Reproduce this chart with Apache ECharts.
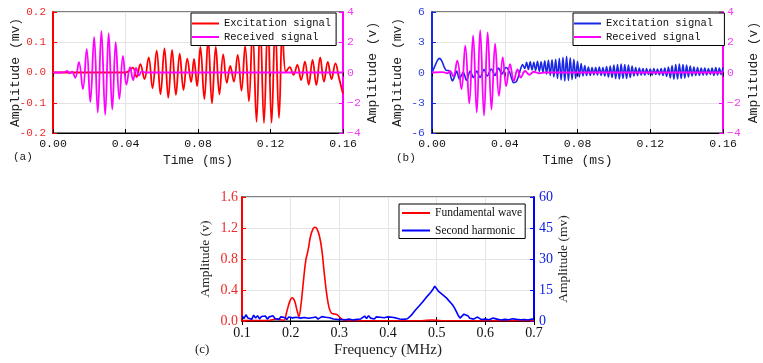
<!DOCTYPE html>
<html><head><meta charset="utf-8">
<script src="https://cdn.jsdelivr.net/npm/echarts/dist/echarts.min.js"></script>
<style>html,body{margin:0;padding:0;background:#fff}#c{width:763px;height:363px}</style>
</head><body><div id="c"></div>
<script>
// ---------- axis ranges [min, max, interval] ----------
const timeRange = [0, 0.16, 0.04];
const mvRangeA = [-0.2, 0.2, 0.1];
const mvRangeB = [-6, 6, 3];
const voltRange = [-4, 4, 2];
const freqRange = [0.1, 0.7, 0.1];
const fundRange = [0, 1.6, 0.4];
const harmRange = [0, 60, 15];

// ---------- (a) signals: [time ms, value] ----------
const excitationA = [[0,0],[0.040,0],[0.0421,0.006],[0.0441,0.016],[0.0461,-0.015],[0.0482,0.028],[0.0505,-0.022],[0.0528,0.05],[0.0549,-0.052],[0.0572,0.072],[0.0593,-0.072],[0.0615,0.08],[0.0636,-0.084],[0.0657,0.075],[0.0678,-0.074],[0.0699,0.062],[0.072,-0.058],[0.0741,0.046],[0.0762,-0.032],[0.0778,0.045],[0.0795,-0.045],[0.0813,0.085],[0.0835,-0.088],[0.0856,0.11],[0.0877,-0.102],[0.0898,0.085],[0.0918,-0.072],[0.0939,0.06],[0.0959,-0.034],[0.0978,0.022],[0.0998,-0.03],[0.1019,0.058],[0.104,-0.06],[0.106,0.088],[0.1081,-0.095],[0.1101,0.14],[0.1123,-0.163],[0.1143,0.165],[0.1164,-0.167],[0.1185,0.165],[0.1206,-0.166],[0.1226,0.16],[0.1247,-0.15],[0.1266,0.13],[0.1285,0.002],[0.1306,0.018],[0.1327,-0.008],[0.1348,0.025],[0.1369,-0.025],[0.139,0.036],[0.1411,-0.04],[0.1432,0.042],[0.1453,-0.042],[0.1474,0.05],[0.1495,-0.03],[0.1516,0.035],[0.1537,-0.022],[0.1558,0.03],[0.1578,-0.018],[0.16,-0.07]];
const receivedA = [[0,0],[0.004,0],[0.0065,0.03],[0.0078,0.1],[0.0092,-0.05],[0.0105,0.06],[0.0123,-0.35],[0.0143,0.68],[0.0165,-1.1],[0.0186,1.55],[0.0206,-1.95],[0.0227,2.35],[0.0247,-2.65],[0.0267,2.75],[0.0288,-2.8],[0.0307,2.6],[0.0327,-2.45],[0.0346,2.0],[0.0366,-1.75],[0.0386,1.1],[0.0405,-0.8],[0.0425,0.35],[0.0442,-0.5],[0.0458,0.3],[0.0475,-0.2],[0.049,0.08],[0.051,0],[0.16,0]];

// ---------- (b) signals ----------
const excitationBStart = [[0,0],[0.0015,0.6],[0.003,1.2],[0.0042,1.4],[0.0055,1.1],[0.0068,0.5],[0.008,0.2],[0.0092,0.2],[0.0105,-0.5],[0.0112,-0.85],[0.0122,-0.5],[0.0136,0.15],[0.015,-0.65],[0.0172,0.0],[0.019,-0.8],[0.021,0.15],[0.0228,-0.5],[0.0246,0.15],[0.0264,-0.5],[0.0286,0.3],[0.0304,-0.35],[0.0326,0.35],[0.0346,-0.3],[0.0366,0.45],[0.0384,-0.15],[0.0407,0.5],[0.0425,0.1],[0.0438,-0.6],[0.0448,-1.0],[0.0462,-0.95],[0.0475,-0.4],[0.0488,0.4],[0.0498,0.8]];
const bandStart = 0.051, bandCycle = 0.002;   // fast oscillation: trough then peak each cycle
const bandLow = [0.4,0.3,0.25,0.2,0.1,0.0,-0.15,-0.3,-0.45,-0.6,-0.75,-0.85,-0.8,-0.7,-0.6,-0.45,-0.35,-0.3,-0.3,-0.25,-0.25,-0.3,-0.35,-0.45,-0.5,-0.6,-0.65,-0.6,-0.6,-0.5,-0.35,-0.3,-0.25,-0.25,-0.2,-0.25,-0.2,-0.25,-0.3,-0.4,-0.55,-0.65,-0.65,-0.6,-0.55,-0.45,-0.35,-0.3,-0.3,-0.25,-0.25,-0.2,-0.3,-0.25,-0.2];
const bandHigh = [1.0,1.05,1.0,1.1,1.05,1.15,1.2,1.25,1.3,1.4,1.5,1.6,1.45,1.3,1.1,0.9,0.7,0.55,0.5,0.5,0.55,0.5,0.6,0.65,0.75,0.8,0.85,0.8,0.75,0.65,0.5,0.45,0.4,0.4,0.35,0.4,0.35,0.4,0.45,0.55,0.7,0.8,0.85,0.8,0.75,0.65,0.55,0.5,0.45,0.45,0.4,0.45,0.5,0.45,0.5];
const receivedB = [[0,0],[0.006,0.02],[0.0085,-0.05],[0.0099,0.1],[0.0117,-0.25],[0.0139,0.78],[0.0162,-1.1],[0.0183,1.78],[0.0205,-2.05],[0.0226,2.45],[0.0246,-2.65],[0.0265,2.8],[0.0286,-2.85],[0.0306,2.65],[0.0327,-2.45],[0.0347,1.9],[0.0368,-1.55],[0.0389,1.0],[0.0408,-0.9],[0.0429,0.55],[0.045,-0.55],[0.047,0.2],[0.0488,-0.33],[0.0512,0.1],[0.0535,-0.15],[0.056,0.05],[0.059,-0.05],[0.062,0],[0.16,0]];

// ---------- (c) spectra ----------
const fundamental = [[0.1,0.005],[0.15,0.005],[0.165,0.02],[0.172,0.03],[0.178,0.015],[0.186,0.01],[0.192,0.12],[0.198,0.25],[0.203,0.30],[0.208,0.26],[0.213,0.14],[0.217,0.06],[0.221,0.2],[0.226,0.5],[0.231,0.78],[0.236,0.92],[0.241,1.1],[0.246,1.19],[0.25,1.21],[0.254,1.19],[0.259,1.1],[0.264,0.92],[0.269,0.62],[0.274,0.35],[0.279,0.17],[0.284,0.1],[0.29,0.09],[0.296,0.08],[0.302,0.04],[0.31,0.01],[0.32,0.004],[0.47,0.004],[0.49,0.012],[0.51,0.004],[0.7,0.004]];
const harmStart = 0.1, harmStep = 0.004;
const secondHarmonic = [2.5,1.2,3.0,1.5,2.2,0.8,2.8,1.4,2.6,1.0,2.2,
1.6,2.4,0.9,2.0,1.3,2.5,1.1,1.8,0.8,2.0,1.2,1.7,0.7,1.9,1.0,
1.5,0.8,1.8,1.1,1.4,0.6,1.7,1.0,1.3,0.7,1.6,1.1,1.9,0.9,1.5,2.1,1.2,1.8,0.9,1.6,2.0,1.0,1.5,0.8,1.3,
0.7,1.2,0.6,1.4,0.9,1.1,0.5,1.3,0.8,1.5,1.0,1.7,2.4,1.2,2.6,1.4,2.2,1.0,2.0,1.3,1.8,0.9,1.6,1.1,2.0,
1.2,1.8,0.9,1.5,2.1,1.0,1.7,0.8,1.4,1.1,
1.5,2.8,4.0,5.2,6.0,7.3,8.1,9.4,10.2,11.8,12.4,13.9,15.2,16.8,15.6,
14.3,13.5,12.8,12.0,11.2,10.1,9.2,8.0,6.6,4.8,2.8,1.4,1.9,3.3,3.8,
2.6,1.3,2.0,0.9,1.5,1.9,1.1,0.7,1.4,0.9,
1.2,0.6,1.0,1.4,0.7,0.9,1.2,0.5,1.0,0.8,1.3,0.6,0.9,1.1,0.5,0.8,1.2,0.6,0.9,0.7,1.1,0.5,0.8,1.0,0.6];

// ---------- build ----------
const excitationB = excitationBStart.slice();
bandLow.forEach((lo, k) => {
  excitationB.push([bandStart + k * bandCycle, lo]);
  excitationB.push([bandStart + k * bandCycle + bandCycle / 2, bandHigh[k]]);
});
const harmData = secondHarmonic.map((v, i) => [harmStart + i * harmStep, v]);

const MONO = "'Liberation Mono','DejaVu Sans Mono',monospace";
const SERIF = "'Liberation Serif','Times New Roman',serif";
const RED = '#ff0000', MAG = '#ff00ff', BLUEB = '#1a28e6', BLUEC = '#0000ff';
const GRIDC = '#e4e4e4';
const minus = v => (v < 0 ? '\u2212' + Math.abs(v) : String(v));

function xBottom(gi, r, font, fmt, name, gap, tickFs, nameFs) {
  return {type:'value', gridIndex:gi, min:r[0], max:r[1], interval:r[2], position:'bottom',
    name:name, nameLocation:'middle', nameGap:gap, nameMoveOverlap:false,
    nameTextStyle:{fontFamily:font, fontSize:nameFs, color:'#222'},
    axisLine:{show:true, onZero:false, lineStyle:{color:'#000', width:1}},
    axisTick:{show:true, inside:true, length:4, lineStyle:{color:'#000'}},
    axisLabel:{fontFamily:font, fontSize:tickFs, color:'#111', margin:5, formatter:fmt},
    splitLine:{show:true, lineStyle:{color:GRIDC, width:1}}};
}
function xTop(gi, r) {
  return {type:'value', gridIndex:gi, min:r[0], max:r[1], interval:r[2], position:'top',
    axisLine:{show:false}, axisTick:{show:true, inside:true, length:4, lineStyle:{color:'#000'}},
    axisLabel:{show:false}, splitLine:{show:false}};
}
function yAxis(gi, r, pos, lineColor, labelColor, font, fmt, name, gap, tickFs, nameFs, split, margin) {
  return {type:'value', gridIndex:gi, min:r[0], max:r[1], interval:r[2], position:pos,
    name:name, nameLocation:'middle', nameGap:gap, nameRotate:90, nameMoveOverlap:false,
    nameTextStyle:{fontFamily:font, fontSize:nameFs, color:'#222'},
    axisLine:{show:true, onZero:false, lineStyle:{color:lineColor, width:2}},
    axisTick:{show:true, inside:true, length:4, lineStyle:{color:lineColor}},
    axisLabel:{fontFamily:font, fontSize:tickFs, color:labelColor, margin:margin, formatter:fmt},
    splitLine:{show:split, lineStyle:{color:GRIDC, width:1}}};
}
function line(name, xi, yi, data, color, smooth, z, w) {
  return {type:'line', name:name, xAxisIndex:xi, yAxisIndex:yi, data:data, symbol:'none',
    showSymbol:false, smooth:smooth, clip:true, z:z,
    lineStyle:{color:color, width:w}, itemStyle:{color:color}};
}
function legend(left, top, names, font, fs, pad, gap, iw) {
  return {left:left, top:top, orient:'vertical', data:names, icon:'rect',
    backgroundColor:'#fff', borderColor:'#000', borderWidth:1, borderRadius:0, padding:pad,
    itemWidth:iw, itemHeight:2, itemGap:gap, z:10,
    textStyle:{fontFamily:font, fontSize:fs, color:'#111'}};
}

const gridBase = {show:true, borderColor:'#000', borderWidth:1, backgroundColor:'#fff',
  containLabel:false, outerBoundsMode:'none'};

const option = {
  animation:false,
  backgroundColor:'#fff',
  grid:[
    Object.assign({left:53, top:12, width:290, height:121}, gridBase),
    Object.assign({left:432, top:12, width:291, height:121}, gridBase),
    Object.assign({left:242, top:197, width:292, height:124}, gridBase)
  ],
  xAxis:[
    xBottom(0, timeRange, MONO, v => v.toFixed(2), 'Time (ms)', 21, 11.5, 13),
    xTop(0, timeRange),
    xBottom(1, timeRange, MONO, v => v.toFixed(2), 'Time (ms)', 21, 11.5, 13),
    xTop(1, timeRange),
    xBottom(2, freqRange, SERIF, v => v.toFixed(1), 'Frequency (MHz)', 22, 14, 15),
    xTop(2, freqRange)
  ],
  yAxis:[
    yAxis(0, mvRangeA, 'left', RED, '#ee2a2a', MONO, v => v.toFixed(1), 'Amplitude (mv)', 31, 11, 13, true, 7),
    yAxis(0, voltRange, 'right', MAG, '#ee40ee', MONO, minus, 'Amplitude (v)', 23, 11.5, 13, false, 4),
    yAxis(1, mvRangeB, 'left', BLUEB, '#3344dd', MONO, v => String(v), 'Amplitude (mv)', 28, 11.5, 13, true, 7),
    yAxis(1, voltRange, 'right', MAG, '#ee40ee', MONO, minus, 'Amplitude (v)', 24, 11.5, 13, false, 4),
    yAxis(2, fundRange, 'left', RED, '#ee2a2a', SERIF, v => v.toFixed(1), 'Amplitude (v)', 30, 14, 13.5, true, 4),
    yAxis(2, harmRange, 'right', BLUEC, '#1020e0', SERIF, v => String(v), 'Amplitude (mv)', 22, 14, 13.5, false, 5)
  ],
  legend:[
    legend(191, 13, ['Excitation signal','Received signal'], MONO, 10.5, [5,5,3,1], 2.5, 27),
    legend(573, 13, ['Excitation signal ','Received signal '], MONO, 10.5, [5,5,3,1], 2.5, 27),
    legend(399, 204, ['Fundamental wave','Second harmonic'], SERIF, 11.5, [3,3,2,3], 5.5, 28)
  ],
  graphic:[
    {type:'text', left:13, top:152, style:{text:'(a)', fontFamily:MONO, fontSize:11, fill:'#222'}},
    {type:'text', left:396, top:153, style:{text:'(b)', fontFamily:MONO, fontSize:11, fill:'#222'}},
    {type:'text', left:195, top:343, style:{text:'(c)', fontFamily:SERIF, fontSize:13, fill:'#222'}}
  ],
  series:[
    line('Excitation signal', 0, 0, excitationA, RED, 0.4, 2, 1.8),
    line('Received signal', 0, 1, receivedA, MAG, 0.4, 3, 1.8),
    line('Excitation signal ', 2, 2, excitationB, BLUEB, 0.3, 2, 1.6),
    line('Received signal ', 2, 3, receivedB, MAG, 0.4, 3, 1.8),
    line('Fundamental wave', 4, 4, fundamental, RED, 0.4, 2, 1.6),
    line('Second harmonic', 4, 5, harmData, BLUEC, false, 3, 1.6)
  ]
};
const chart = echarts.init(document.getElementById('c'));
chart.setOption(option);
</script></body></html>
